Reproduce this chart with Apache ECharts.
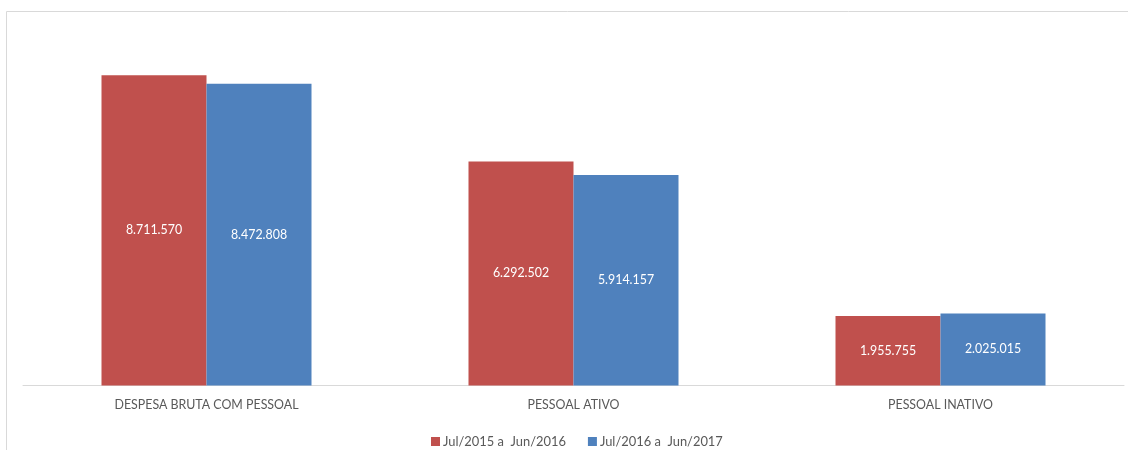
<!DOCTYPE html>
<html><head><meta charset="utf-8">
<script src="https://cdn.jsdelivr.net/npm/echarts@6/dist/echarts.min.js"></script>
<style>html,body{margin:0;padding:0;background:#fff}#c{width:1128px;height:450px}</style>
</head><body><div id="c"></div>
<script>
const categories = ['DESPESA BRUTA COM PESSOAL', 'PESSOAL ATIVO', 'PESSOAL INATIVO'];
const seriesNames = ['Jul/2015 a  Jun/2016', 'Jul/2016 a  Jun/2017'];
const values2016 = [8711570, 6292502, 1955755];
const values2017 = [8472808, 5914157, 2025015];
const colors = ['#C0504D', '#4F81BD'];
const fmt = v => String(v).replace(/\B(?=(\d{3})+(?!\d))/g, '.');
const FONT = 'Lato, "Liberation Sans", sans-serif';
const chart = echarts.init(document.getElementById('c'));
const mk = (name, data, color) => ({
  name, type: 'bar', data, barWidth: 105, barGap: '0%',
  itemStyle: { color },
  label: { show: true, position: 'inside', color: '#fff', fontFamily: FONT, fontSize: 12.4,
    formatter: p => fmt(p.value) }
});
chart.setOption({
  animation: false,
  graphic: [{ type: 'rect', shape: { x: 6.5, y: 11.5, width: 1200, height: 600 },
    style: { fill: 'none', stroke: '#d9d9d9', lineWidth: 1 }, silent: true }],
  grid: { left: 23, right: 4, top: 29.5, bottom: 64.5 },
  xAxis: { type: 'category', data: categories,
    axisLine: { lineStyle: { color: '#d9d9d9' } }, axisTick: { show: false },
    axisLabel: { color: '#595959', fontFamily: FONT, fontSize: 12.4, margin: 13 } },
  yAxis: { type: 'value', min: 0, max: 10000000, show: false, splitLine: { show: false } },
  legend: { left: 426, top: 430, itemWidth: 9, itemHeight: 9, itemGap: 22, icon: 'rect',
    textStyle: { color: '#595959', fontFamily: FONT, fontSize: 12.9, padding: [0, 0, 0, -2] } },
  series: [mk(seriesNames[0], values2016, colors[0]), mk(seriesNames[1], values2017, colors[1])]
});
</script></body></html>
